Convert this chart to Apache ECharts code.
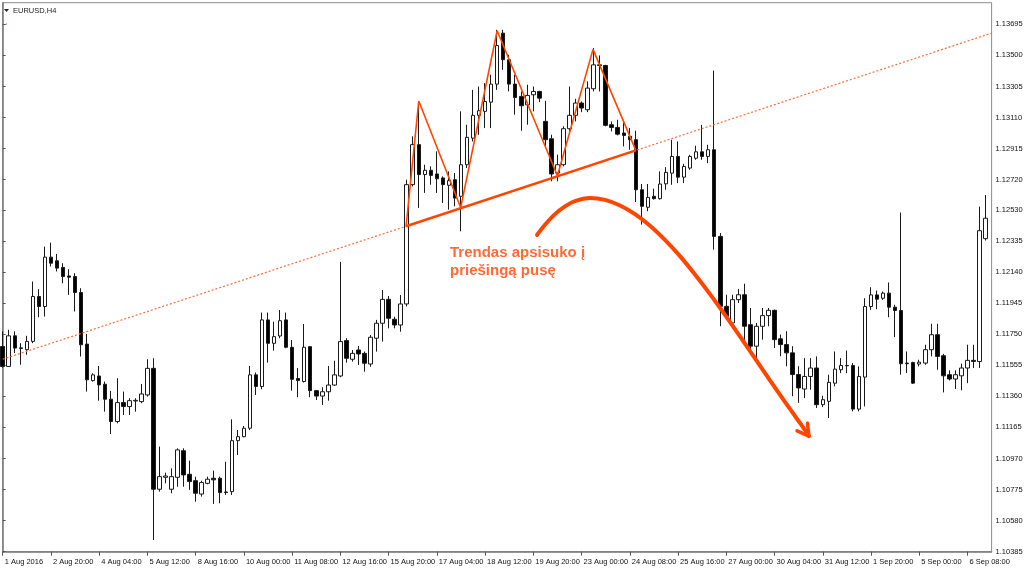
<!DOCTYPE html>
<html>
<head>
<meta charset="utf-8">
<script src="https://cdn.jsdelivr.net/npm/echarts@6/dist/echarts.min.js"></script>
<style>html,body{margin:0;padding:0;background:#fff}#c{width:1024px;height:576px}</style>
</head>
<body>
<div id="c"></div>
<script>
const symbolName = 'EURUSD,H4';
const tickLabels = ['1 Aug 2016','2 Aug 20:00','4 Aug 04:00','5 Aug 12:00','8 Aug 16:00','10 Aug 00:00','11 Aug 08:00','12 Aug 16:00','15 Aug 20:00','17 Aug 04:00','18 Aug 12:00','19 Aug 20:00','23 Aug 00:00','24 Aug 08:00','25 Aug 16:00','27 Aug 00:00','30 Aug 04:00','31 Aug 12:00','1 Sep 20:00','5 Sep 00:00','6 Sep 08:00'];
const barsPerTick = 8;
const slotCount = 165;
const priceTicks = [1.13695,1.13500,1.13305,1.13110,1.12915,1.12720,1.12530,1.12335,1.12140,1.11945,1.11750,1.11555,1.11360,1.11165,1.10970,1.10775,1.10580,1.10385];
const priceMin = 1.10385;
const priceMax = 1.13831;

const opens = [1.11673,1.11548,1.11740,1.11660,1.11653,1.11705,1.11987,1.11924,1.12234,1.12211,1.12169,1.12116,1.12112,1.12012,1.11688,1.11459,1.11488,1.11436,1.11342,1.11202,1.11321,1.11296,1.11331,1.11327,1.11369,1.11536,1.10777,1.10852,1.10777,1.10852,1.11019,1.10871,1.10831,1.10747,1.10814,1.10846,1.10846,1.10760,1.10762,1.11082,1.11107,1.11160,1.11495,1.11422,1.11840,1.11693,1.11739,1.11840,1.11668,1.11472,1.11453,1.11672,1.11396,1.11362,1.11389,1.11431,1.11488,1.11710,1.11593,1.11651,1.11630,1.11563,1.11725,1.11819,1.11969,1.11844,1.11808,1.11940,1.12689,1.12940,1.12752,1.12779,1.12756,1.12731,1.12685,1.12720,1.12616,1.12814,1.12981,1.13124,1.13149,1.13207,1.13320,1.13640,1.13473,1.13320,1.13243,1.13190,1.13253,1.13274,1.13086,1.12977,1.12762,1.12814,1.13040,1.13124,1.13201,1.13159,1.13291,1.13441,1.13437,1.13065,1.13048,1.13013,1.12992,1.12971,1.12657,1.12547,1.12616,1.12601,1.12694,1.12761,1.12866,1.12736,1.12793,1.12855,1.12895,1.12866,1.12908,1.12364,1.11925,1.11821,1.11967,1.11998,1.11810,1.11675,1.11800,1.11867,1.11900,1.11721,1.11685,1.11633,1.11497,1.11406,1.11485,1.11538,1.11308,1.11329,1.11443,1.11527,1.11554,1.11554,1.11280,1.11481,1.11924,1.11997,1.11976,1.12008,1.11920,1.11899,1.11569,1.11573,1.11563,1.11569,1.11653,1.11747,1.11615,1.11496,1.11469,1.11489,1.11538,1.11586,1.11579,1.12350];
const closes = [1.11548,1.11740,1.11663,1.11665,1.11705,1.11987,1.11924,1.12234,1.12196,1.12165,1.12112,1.12108,1.12012,1.11684,1.11464,1.11495,1.11432,1.11342,1.11202,1.11321,1.11296,1.11333,1.11335,1.11375,1.11536,1.10777,1.10856,1.10860,1.10856,1.11024,1.10867,1.10825,1.10752,1.10819,1.10840,1.10836,1.10756,1.10756,1.11082,1.11107,1.11160,1.11495,1.11422,1.11840,1.11693,1.11735,1.11835,1.11668,1.11467,1.11459,1.11668,1.11396,1.11362,1.11389,1.11431,1.11495,1.11704,1.11599,1.11630,1.11626,1.11568,1.11731,1.11819,1.11969,1.11850,1.11808,1.11940,1.12689,1.12940,1.12752,1.12779,1.12747,1.12726,1.12689,1.12714,1.12605,1.12814,1.12986,1.13124,1.13153,1.13211,1.13320,1.13562,1.13473,1.13320,1.13236,1.13184,1.13249,1.13274,1.13232,1.12971,1.12756,1.12814,1.13040,1.13124,1.13201,1.13170,1.13295,1.13441,1.13437,1.13061,1.13048,1.13006,1.12998,1.12971,1.12657,1.12553,1.12609,1.12601,1.12693,1.12766,1.12866,1.12736,1.12803,1.12866,1.12895,1.12866,1.12908,1.12364,1.11925,1.11863,1.11967,1.11998,1.11800,1.11675,1.11800,1.11867,1.11900,1.11716,1.11685,1.11633,1.11497,1.11413,1.11485,1.11538,1.11308,1.11339,1.11448,1.11531,1.11554,1.11552,1.11280,1.11485,1.11924,1.11997,1.11970,1.12008,1.11920,1.11899,1.11565,1.11565,1.11443,1.11575,1.11653,1.11747,1.11611,1.11489,1.11469,1.11496,1.11538,1.11586,1.11579,1.12400,1.12478];
const lows = [1.11540,1.11544,1.11632,1.11559,1.11621,1.11694,1.11857,1.11861,1.12175,1.12144,1.12070,1.11997,1.11893,1.11610,1.11390,1.11453,1.11333,1.11264,1.11124,1.11191,1.11243,1.11243,1.11264,1.11317,1.11359,1.10458,1.10762,1.10814,1.10752,1.10793,1.10793,1.10773,1.10699,1.10731,1.10808,1.10685,1.10689,1.10741,1.10741,1.10992,1.11103,1.11149,1.11369,1.11405,1.11572,1.11647,1.11725,1.11662,1.11396,1.11355,1.11447,1.11355,1.11337,1.11306,1.11333,1.11426,1.11480,1.11572,1.11578,1.11557,1.11515,1.11546,1.11641,1.11704,1.11787,1.11787,1.11766,1.11925,1.12678,1.12543,1.12637,1.12689,1.12637,1.12574,1.12532,1.12553,1.12396,1.12793,1.12960,1.13002,1.13044,1.13044,1.13284,1.13410,1.13274,1.13128,1.13027,1.13065,1.13149,1.13207,1.12919,1.12710,1.12710,1.12804,1.13023,1.13086,1.13144,1.13144,1.13274,1.13274,1.13055,1.13023,1.12998,1.12929,1.12908,1.12580,1.12438,1.12522,1.12595,1.12595,1.12657,1.12688,1.12699,1.12699,1.12782,1.12845,1.12845,1.12824,1.12281,1.11800,1.11842,1.11810,1.11946,1.11696,1.11654,1.11601,1.11716,1.11800,1.11664,1.11612,1.11549,1.11361,1.11319,1.11349,1.11402,1.11287,1.11293,1.11224,1.11423,1.11506,1.11506,1.11266,1.11266,1.11297,1.11903,1.11907,1.11966,1.11857,1.11732,1.11496,1.11506,1.11438,1.11548,1.11558,1.11611,1.11527,1.11385,1.11460,1.11406,1.11398,1.11443,1.11538,1.11538,1.12338];
const highs = [1.11768,1.11778,1.11768,1.11694,1.11740,1.12081,1.12033,1.12300,1.12325,1.12254,1.12196,1.12158,1.12133,1.12039,1.11752,1.11505,1.11551,1.11453,1.11394,1.11474,1.11390,1.11348,1.11348,1.11438,1.11593,1.11599,1.11045,1.10881,1.10908,1.11034,1.11034,1.10957,1.10856,1.10831,1.10856,1.10894,1.10856,1.10950,1.11216,1.11149,1.11174,1.11551,1.11510,1.11886,1.11886,1.11829,1.11902,1.11886,1.11714,1.11537,1.11814,1.11672,1.11400,1.11417,1.11551,1.11584,1.12204,1.11725,1.11651,1.11676,1.11641,1.11745,1.11840,1.12028,1.11990,1.11860,1.11996,1.12720,1.12992,1.13195,1.12814,1.12804,1.12898,1.12741,1.12772,1.12762,1.13149,1.13065,1.13284,1.13305,1.13326,1.13379,1.13661,1.13661,1.13504,1.13379,1.13274,1.13316,1.13305,1.13278,1.13215,1.13002,1.12877,1.13055,1.13305,1.13228,1.13211,1.13337,1.13546,1.13500,1.13441,1.13086,1.13096,1.13096,1.13044,1.13027,1.12693,1.12693,1.12664,1.12772,1.12799,1.12970,1.12960,1.12820,1.12876,1.12933,1.13064,1.12939,1.13405,1.12385,1.11998,1.11998,1.12034,1.12067,1.11915,1.11821,1.11915,1.11915,1.11905,1.11748,1.11769,1.11675,1.11549,1.11600,1.11600,1.11611,1.11364,1.11496,1.11642,1.11600,1.11648,1.11569,1.11548,1.11976,1.12045,1.12024,1.12018,1.12075,1.11935,1.12514,1.11642,1.11577,1.11590,1.11684,1.11816,1.11816,1.11627,1.11523,1.11523,1.11565,1.11684,1.11684,1.12551,1.12624];

// annotations in (bar index, price)
const trendLine = [[0, 1.11593], [164, 1.13640]];
const neckline = [[66.9, 1.12428], [105.0, 1.12904]];
const zigzag = [[66.9, 1.12428], [69.0, 1.13214], [75.95, 1.12545], [82.0, 1.13655], [92.0, 1.12745], [97.9, 1.13538], [105.0, 1.12904]];
const arrowCurve = [[88.61, 1.12373], [89.93, 1.12437], [91.59, 1.12504], [93.25, 1.12553], [94.91, 1.12586], [97.40, 1.12605], [99.88, 1.12593], [102.37, 1.12558], [104.86, 1.12504], [107.35, 1.12431], [109.83, 1.12342], [112.32, 1.12240], [114.81, 1.12125], [117.30, 1.12002], [119.78, 1.11872], [122.27, 1.11737], [124.76, 1.11599], [127.25, 1.11461], [129.73, 1.11325], [132.22, 1.11193], [133.71, 1.11111]];
const arrowHead = [[131.74, 1.11144], [133.71, 1.11111], [133.46, 1.11192]];
const noteText = 'Trendas apsisuko į\npriešingą pusę';
const notePos = [74.18, 1.12317];

const accent = '#FF4500';
const axisFont = "'Liberation Sans',Arial,sans-serif";
const categories = Array.from({length: slotCount}, (_, i) => String(i));
const candles = opens.map((o, i) => [o, closes[i], lows[i], highs[i]]);
const showTick = (i) => i % barsPerTick === 0 && (i / barsPerTick) < tickLabels.length;

const chart = echarts.init(document.getElementById('c'), null, {renderer: 'canvas'});
chart.setOption({
  animation: false,
  backgroundColor: '#fff',
  grid: {left: 2.7, right: 32.4, top: 2.7, bottom: 24.3, containLabel: false, outerBoundsMode: 'none',
    show: true, borderColor: '#8c8c8c', borderWidth: 1},
  xAxis: [{
    type: 'category', data: categories, boundaryGap: false,
    axisLine: {show: true, lineStyle: {color: '#7a7a7a', width: 1.5}},
    axisTick: {show: true, interval: (i) => showTick(i), length: 4, lineStyle: {color: '#555'}},
    axisLabel: {show: true, interval: (i) => showTick(i), formatter: (v, i) => tickLabels[i / barsPerTick] || '',
      align: 'left', margin: 6, padding: [0, 0, 0, 2], fontSize: 7.5, fontFamily: axisFont, color: '#111',
      hideOverlap: false},
    splitLine: {show: false}
  }, {
    type: 'value', min: 0, max: slotCount - 1, show: false
  }],
  yAxis: [{
    type: 'value', position: 'right', min: priceMin, max: priceMax, scale: true,
    axisLine: {show: true, lineStyle: {color: '#7a7a7a', width: 1.5}},
    axisTick: {show: true, customValues: priceTicks, length: 3, lineStyle: {color: '#555'}},
    axisLabel: {show: true, customValues: priceTicks, formatter: (v) => Number(v).toFixed(5),
      margin: 4, fontSize: 7.5, fontFamily: axisFont, color: '#111'},
    splitLine: {show: false}
  }],
  graphic: [
    {type: 'polygon', shape: {points: [[4, 9], [9, 9], [6.5, 12]]}, style: {fill: '#222'}},
    {type: 'text', left: 13, top: 6.5, style: {text: symbolName, fontSize: 7.5, fontFamily: axisFont, fill: '#222'}},
    {type: 'circle', shape: {cx: 6.5, cy: 24, r: 0.7}, style: {fill: '#c08080'}}
  ],
  series: [
    {
      type: 'candlestick', xAxisIndex: 0, yAxisIndex: 0, data: candles, barWidth: 4,
      itemStyle: {color: '#ffffff', color0: '#000000', borderColor: '#1a1a1a', borderColor0: '#1a1a1a', borderWidth: 1},
      silent: true
    },
    {type: 'line', xAxisIndex: 1, data: trendLine, symbol: 'none', silent: true,
      lineStyle: {color: '#FF6A3A', width: 1.2, type: [2, 2]}},
    {type: 'line', xAxisIndex: 1, data: neckline, symbol: 'none', silent: true,
      lineStyle: {color: accent, width: 2.5}},
    {type: 'line', xAxisIndex: 1, data: zigzag, symbol: 'none', silent: true,
      lineStyle: {color: accent, width: 1.6}},
    {type: 'line', xAxisIndex: 1, data: arrowCurve, symbol: 'none', smooth: 0.3, silent: true,
      lineStyle: {color: accent, width: 4, cap: 'round'}},
    {type: 'line', xAxisIndex: 1, data: arrowHead, symbol: 'none', silent: true,
      lineStyle: {color: accent, width: 3.5, cap: 'round', join: 'round'}},
    {type: 'scatter', xAxisIndex: 1, data: [notePos], symbolSize: 0, silent: true,
      label: {show: true, formatter: noteText, position: [0, 0], align: 'left', verticalAlign: 'top',
        fontSize: 15, fontWeight: 'bold', lineHeight: 18, fontFamily: "'Liberation Sans',Arial,sans-serif", color: accent}}
  ]
});
</script>
</body>
</html>
